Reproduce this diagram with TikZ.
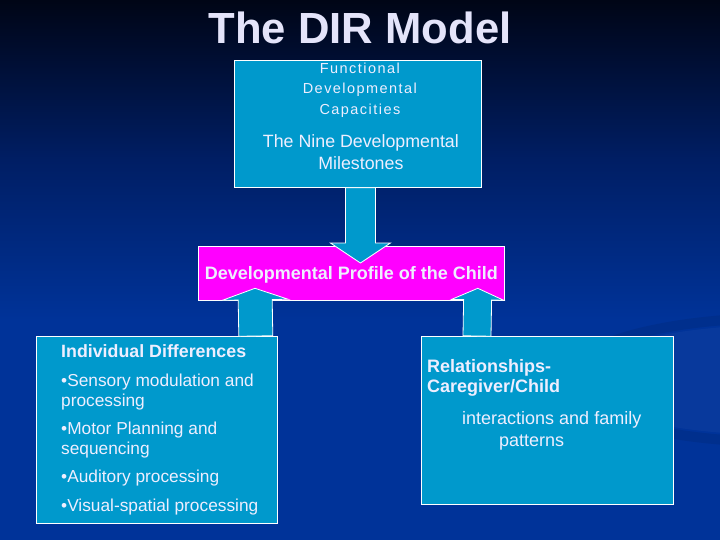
\documentclass[tikz,border=0pt]{standalone}
\usepackage{fontspec}
\setmainfont{Liberation Sans}
\usetikzlibrary{calc}

\definecolor{kastenblau}{RGB}{0,153,204}
\definecolor{profilfarbe}{RGB}{255,0,255}
\definecolor{schrift}{RGB}{238,238,255}
\definecolor{titelfarbe}{RGB}{228,228,250}
\definecolor{nachtblau}{RGB}{0,5,22}
\definecolor{mittelblau}{RGB}{0,30,100}
\definecolor{koenigsblau}{RGB}{0,51,153}

% Blockpfeil: Start, Spitze, halbe Schaftbreite, halbe Kopfbreite, Kopflaenge
\newcommand{\blockpfeil}[5]{%
  \coordinate (kb) at ($(#2)!#5pt!(#1)$);
  \draw[pfeil] ($(#1)!#3pt!90:(#2)$) -- ($(kb)!#3pt!90:(#2)$) -- ($(kb)!#4pt!90:(#2)$)
    -- (#2) -- ($(kb)!#4pt!-90:(#2)$) -- ($(kb)!#3pt!-90:(#2)$) -- ($(#1)!#3pt!-90:(#2)$) -- cycle;
}

\begin{document}
\begin{tikzpicture}[x=1pt, y=-1pt,
    kasten/.style={draw=white, line width=0.8pt, fill=kastenblau, inner sep=0pt, anchor=north west},
    profilkasten/.style={kasten, fill=profilfarbe, text=schrift, text depth=0pt, font=\fontsize{18}{20}\selectfont\bfseries},
    pfeil/.style={draw=white, line width=0.8pt, fill=kastenblau},
    beschriftung/.style={text=schrift, inner sep=0pt}]
	% Hintergrund
    \useasboundingbox (0,0) rectangle (720,540);
    \fill[koenigsblau] (0,0) rectangle (720,540);
    \fill[top color=nachtblau, bottom color=koenigsblau, middle color=mittelblau] (0,0) rectangle (720,320);
    \draw[black, opacity=0.08, line width=10pt] (780,380) ellipse (215 and 62);
    \fill[white, opacity=0.03] (780,380) ellipse (205 and 55);
    % Titel
    \node[text=titelfarbe, inner sep=0pt, anchor=base, font=\fontsize{43.6}{46}\selectfont\bfseries] (titel) at (360,44) {The DIR Model};
    % Kaesten
    \node[kasten, minimum width=247pt, minimum height=127pt] (kap) at (234,60) {};
    \node[profilkasten, minimum width=306pt, minimum height=54pt] (profil) at (198,246) {Developmental Profile of the Child};
    \node[kasten, minimum width=241pt, minimum height=187pt] (links) at (36,336) {};
    \node[kasten, minimum width=252pt, minimum height=168pt] (rechts) at (421,336) {};
    % Texte
    \node[beschriftung, anchor=north, align=center, font=\fontsize{14.5}{20.5}\selectfont\addfontfeature{LetterSpace=10}] (kaptitel) at ($(kap.north)+(2,2.5)$) {Functional\\Developmental\\Capacities};
    \node[beschriftung, anchor=north, align=center, font=\fontsize{17.8}{22}\selectfont] (meilen) at ($(kap.north)+(3,74.5)$) {The Nine Developmental\\Milestones};
    \node[beschriftung, anchor=north west, align=left, font=\fontsize{17.3}{20}\selectfont] (unterschiede) at ($(links.north west)+(25,8)$)
      {{\fontsize{17.8}{20}\selectfont\bfseries Individual Differences}\\[9pt]•Sensory modulation and\\processing\\[8pt]•Motor Planning and\\sequencing\\[8pt]•Auditory processing\\[9pt]•Visual-spatial processing};
    \node[beschriftung, anchor=north west, align=left, font=\fontsize{18}{19.5}\selectfont] (beziehung) at ($(rechts.north west)+(6,23.5)$)
      {\textbf{Relationships-}\\\textbf{Caregiver/Child}\\[13pt]\hspace*{35pt}interactions and family\\[2.5pt]\hspace*{72pt}patterns};
    % Pfeile
    \coordinate (ab) at ($(kap.south)+(2.5,0)$);
    \coordinate (abspitze) at ($(profil.north)+(9,17)$);
    \blockpfeil{ab}{abspitze}{15}{30}{20}
    \coordinate (lf) at ($(links.north east)+(-22,0)$);
    \coordinate (lspitze) at ($(profil.south west)+(57,-12.5)$);
    \blockpfeil{lf}{lspitze}{17}{33}{11.5}
    \coordinate (rf) at ($(rechts.north west)+(56,0)$);
    \coordinate (rspitze) at ($(profil.south east)+(-27,-12.5)$);
    \blockpfeil{rf}{rspitze}{14}{26}{11.5}
\end{tikzpicture}
\end{document}
